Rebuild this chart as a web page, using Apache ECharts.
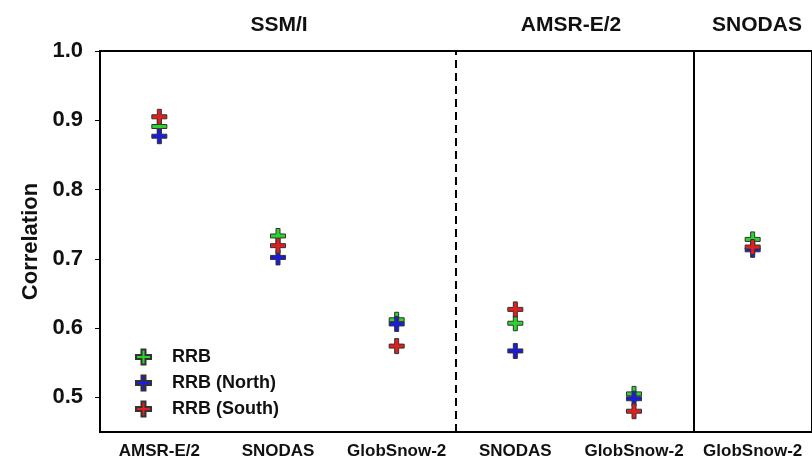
<!DOCTYPE html>
<html>
<head>
<meta charset="utf-8">
<script src="https://cdn.jsdelivr.net/npm/echarts@6/dist/echarts.min.js"></script>
<style>
  html, body { margin: 0; padding: 0; background: #fff; }
  #chart { width: 812px; height: 468px; }
</style>
</head>
<body>
<div id="chart"></div>
<script>
// products compared against each reference dataset
const categories = ['AMSR-E/2', 'SNODAS', 'GlobSnow-2', 'SNODAS', 'GlobSnow-2', 'GlobSnow-2'];
const groups = ['SSM/I', 'AMSR-E/2', 'SNODAS'];
const rrb = [0.891, 0.733, 0.612, 0.607, 0.505, 0.728];
const rrbNorth = [0.877, 0.702, 0.606, 0.567, 0.498, 0.713];
const rrbSouth = [0.905, 0.719, 0.574, 0.627, 0.480, 0.717];
const yTicks = [0.5, 0.6, 0.7, 0.8, 0.9, 1.0];

const gridLeft = 100, gridTop = 51, gridWidth = 714, gridHeight = 381;
const titleCenters = [274, 566, 752];
const plus = 'path://M5.5,0H9.5V5.5H15V9.5H9.5V15H5.5V9.5H0V5.5H5.5Z';
const font = 'Arial, "Liberation Sans", sans-serif';

const titles = groups.map((g, i) => ({
  text: g, left: titleCenters[i], top: 10, textAlign: 'center',
  textStyle: { fontFamily: font, fontWeight: 'bold', fontSize: 21, color: '#111' }
}));

function markSeries(name, data, color) {
  return {
    name: name, type: 'scatter', data: data,
    symbol: plus, symbolSize: 15,
    itemStyle: { color: color, borderColor: '#333', borderWidth: 1, opacity: 1 },
    emphasis: { disabled: true }
  };
}

const chart = echarts.init(document.getElementById('chart'));
chart.setOption({
  animation: false,
  title: titles,
  grid: {
    left: gridLeft, top: gridTop, width: gridWidth, height: gridHeight,
    show: true, borderColor: '#000', borderWidth: 2
  },
  legend: {
    orient: 'vertical', left: 130, top: 343,
    itemWidth: 15, itemHeight: 15, itemGap: 8,
    textStyle: { fontFamily: font, fontWeight: 'bold', fontSize: 18, color: '#111', padding: [0, 0, 0, 16] },
    data: ['RRB', 'RRB (North)', 'RRB (South)']
  },
  xAxis: [{
    type: 'category', data: categories, boundaryGap: true,
    axisLine: { lineStyle: { color: '#000', width: 2 } },
    axisTick: { alignWithLabel: true, length: 5, lineStyle: { color: '#000' } },
    axisLabel: { interval: 0, fontFamily: font, fontWeight: 'bold', fontSize: 17, color: '#111', margin: 11 }
  }, {
    type: 'value', min: 0, max: categories.length, show: false
  }],
  yAxis: {
    type: 'value', min: 0.45, max: 1.0,
    name: 'Correlation', nameLocation: 'middle', nameGap: 56,
    nameTextStyle: { fontFamily: font, fontWeight: 'bold', fontSize: 22, color: '#111' },
    axisLine: { show: true, lineStyle: { color: '#000', width: 2 } },
    axisTick: { show: true, length: 5, customValues: yTicks, lineStyle: { color: '#000' } },
    axisLabel: {
      customValues: yTicks, margin: 17,
      fontFamily: font, fontWeight: 'bold', fontSize: 22, color: '#111',
      formatter: v => v.toFixed(1)
    },
    splitLine: { show: false }
  },
  series: [
    markSeries('RRB', rrb, '#2ad42a'),
    markSeries('RRB (North)', rrbNorth, '#1c1cd8'),
    markSeries('RRB (South)', rrbSouth, '#e02020'),
    {
      type: 'scatter', xAxisIndex: 1, data: [], silent: true,
      markLine: {
        silent: true, symbol: 'none', label: { show: false },
        data: [
          { xAxis: 3, lineStyle: { color: '#000', width: 2, type: [8, 5] } },
          { xAxis: 5, lineStyle: { color: '#000', width: 2, type: 'solid' } }
        ]
      }
    }
  ]
});
</script>
</body>
</html>
